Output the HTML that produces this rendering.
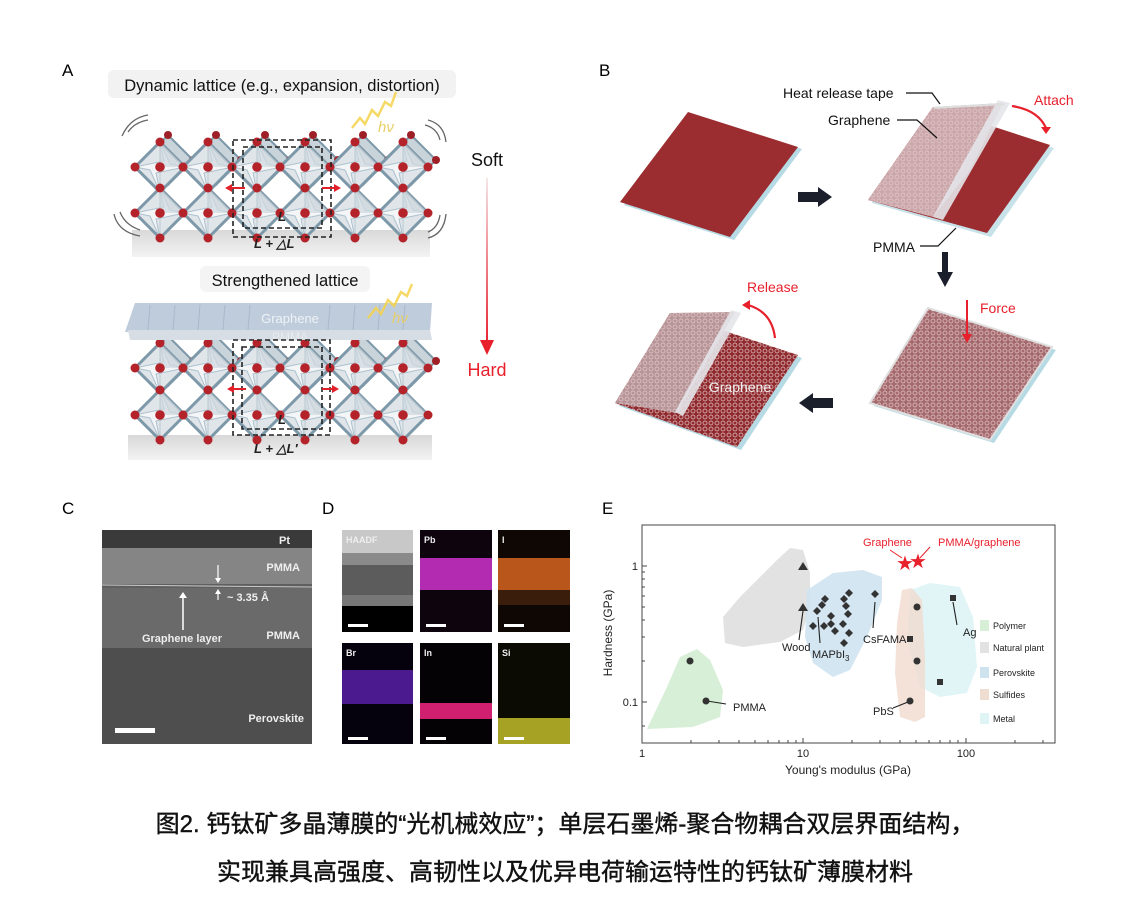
<!DOCTYPE html>
<html><head><meta charset="utf-8"><style>
html,body{margin:0;padding:0;background:#fff;}
svg{display:block;font-family:"Liberation Sans",Arial,sans-serif;}
.cap{font-family:"Liberation Sans","Noto Sans CJK SC",sans-serif;}
</style></head><body>
<svg width="1130" height="914" viewBox="0 0 1130 914" xmlns="http://www.w3.org/2000/svg">
<defs>
<g id="oct">
<polygon points="0,-25 25,0 0,25 -25,0" fill="#dfe5e9" stroke="#7d98a8" stroke-width="3"/>
<polygon points="0,-25 10,-3 25,0 -4,6 0,25 -10,3 -25,0 4,-6" fill="#f3f5f7" stroke="#adc2ce" stroke-width="1"/>
<polygon points="0,-25 25,0 0,0" fill="#cfd8de" opacity="0.7"/>
<line x1="0" y1="-25" x2="0" y2="25" stroke="#b9cad4" stroke-width="1"/>
<circle r="4.5" cx="0" cy="-25" fill="#b5232a"/><circle r="4.5" cx="25" cy="0" fill="#b5232a"/>
<circle r="4.5" cx="0" cy="25" fill="#b5232a"/><circle r="4.5" cx="-25" cy="0" fill="#b5232a"/>
<circle r="4.8" cx="0" cy="0" fill="#b5232a"/>
</g>
<g id="octb">
<polygon points="0,-25 25,0 0,25 -25,0" fill="#c9d3da" stroke="#7d98a8" stroke-width="2"/>
<circle r="4" cx="0" cy="-25" fill="#9e2026"/><circle r="4" cx="25" cy="0" fill="#9e2026"/>
</g>
<pattern id="hex" width="6" height="6" patternUnits="userSpaceOnUse">
<rect width="6" height="6" fill="none"/><circle cx="3" cy="3" r="2" fill="none" stroke="#e8c9ca" stroke-width="0.7"/>
</pattern>
<linearGradient id="sh" x1="0" y1="0" x2="0" y2="1"><stop offset="0" stop-color="#d8d8d8"/><stop offset="1" stop-color="#f3f3f3"/></linearGradient>
<linearGradient id="ar" x1="0" y1="0" x2="0" y2="1"><stop offset="0" stop-color="#f4e6e8"/><stop offset="1" stop-color="#e8202c"/></linearGradient>
</defs>

<!-- Panel A -->
<text x="62" y="76" font-size="17">A</text>
<rect x="108" y="70" width="348" height="28" rx="6" fill="#f2f2f2"/>
<text x="282" y="91" font-size="16.5" text-anchor="middle" fill="#111">Dynamic lattice (e.g., expansion, distortion)</text>
<polygon points="132,230 430,230 430,257 132,257" fill="url(#sh)"/>
<g>
<use href="#octb" x="168" y="160"/><use href="#octb" x="216" y="160"/><use href="#octb" x="265" y="160"/><use href="#octb" x="313" y="160"/><use href="#octb" x="363" y="160"/><use href="#octb" x="411" y="160"/>
<use href="#oct" x="160" y="167"/><use href="#oct" x="208" y="167"/><use href="#oct" x="257" y="167"/><use href="#oct" x="305" y="167"/><use href="#oct" x="355" y="167"/><use href="#oct" x="403" y="167"/>
<use href="#oct" x="160" y="213"/><use href="#oct" x="208" y="213"/><use href="#oct" x="257" y="213"/><use href="#oct" x="305" y="213"/><use href="#oct" x="355" y="213"/><use href="#oct" x="403" y="213"/>
</g>
<rect x="233" y="140" width="98" height="97" fill="none" stroke="#222" stroke-width="1.6" stroke-dasharray="5,3"/>
<rect x="243" y="147" width="79" height="81" fill="none" stroke="#222" stroke-width="1.6" stroke-dasharray="5,3"/>
<line x1="245" y1="188" x2="228" y2="188" stroke="#e2202a" stroke-width="2"/><polygon points="225,188 232,184 232,192" fill="#e2202a"/>
<line x1="322" y1="188" x2="338" y2="188" stroke="#e2202a" stroke-width="2"/><polygon points="341,188 334,184 334,192" fill="#e2202a"/>
<text x="278" y="221" font-size="13" font-style="italic" font-weight="bold" fill="#222">L</text>
<text x="254" y="248" font-size="13" font-style="italic" font-weight="bold" fill="#222">L + △L</text>
<g fill="none" stroke="#666" stroke-width="1.3">
<path d="M128,132 Q135,122 148,120"/><path d="M122,136 Q130,118 148,115"/>
<path d="M425,125 Q437,128 440,140"/><path d="M428,120 Q444,124 446,142"/>
<path d="M120,212 Q125,225 140,230"/><path d="M114,214 Q118,232 140,236"/>
<path d="M440,215 Q438,228 428,232"/><path d="M446,214 Q444,234 428,238"/>
</g>
<path d="M352,128 L360,118 L365,124 L372,110 L378,116 L385,102 L391,106 L396,92" fill="none" stroke="#f4d24a" stroke-width="2.5" opacity="0.85"/>
<text x="378" y="132" font-size="15" font-style="italic" fill="#e8cf6a">hν</text>

<rect x="200" y="266" width="170" height="26" rx="6" fill="#f4f4f4"/>
<text x="285" y="286" font-size="16.5" text-anchor="middle" fill="#111">Strengthened lattice</text>
<polygon points="128,435 432,435 432,460 128,460" fill="url(#sh)"/>
<g>
<use href="#octb" x="168" y="361"/><use href="#octb" x="216" y="361"/><use href="#octb" x="265" y="361"/><use href="#octb" x="313" y="361"/><use href="#octb" x="363" y="361"/><use href="#octb" x="411" y="361"/>
<use href="#oct" x="160" y="368"/><use href="#oct" x="208" y="368"/><use href="#oct" x="257" y="368"/><use href="#oct" x="305" y="368"/><use href="#oct" x="355" y="368"/><use href="#oct" x="403" y="368"/>
<use href="#oct" x="160" y="415"/><use href="#oct" x="208" y="415"/><use href="#oct" x="257" y="415"/><use href="#oct" x="305" y="415"/><use href="#oct" x="355" y="415"/><use href="#oct" x="403" y="415"/>
</g>
<polygon points="135,303 432,303 430,332 125,332" fill="#b8c6d8" opacity="0.9"/>
<g stroke="#9aabbf" stroke-width="1" opacity="0.6">
<line x1="150" y1="305" x2="148" y2="330"/><line x1="175" y1="305" x2="173" y2="330"/><line x1="200" y1="305" x2="198" y2="330"/><line x1="225" y1="305" x2="223" y2="330"/><line x1="250" y1="305" x2="248" y2="330"/><line x1="330" y1="305" x2="328" y2="330"/><line x1="355" y1="305" x2="353" y2="330"/><line x1="380" y1="305" x2="378" y2="330"/><line x1="405" y1="305" x2="403" y2="330"/>
</g>
<polygon points="128,330 430,330 432,340 130,340" fill="#d6dde4"/>
<text x="290" y="323" font-size="13" text-anchor="middle" fill="#eef2f6">Graphene</text>
<text x="290" y="341" font-size="12" text-anchor="middle" fill="#e8eaee">PMMA</text>
<path d="M368,318 L376,308 L381,314 L388,300 L394,306 L401,292 L407,296 L412,284" fill="none" stroke="#f4d24a" stroke-width="2.5" opacity="0.85"/>
<text x="392" y="323" font-size="15" font-style="italic" fill="#e8cf6a">hν</text>
<rect x="233" y="340" width="97" height="95" fill="none" stroke="#222" stroke-width="1.6" stroke-dasharray="5,3"/>
<rect x="242" y="347" width="80" height="82" fill="none" stroke="#222" stroke-width="1.6" stroke-dasharray="5,3"/>
<line x1="246" y1="389" x2="230" y2="389" stroke="#e2202a" stroke-width="2"/><polygon points="227,389 234,385 234,393" fill="#e2202a"/>
<line x1="322" y1="389" x2="336" y2="389" stroke="#e2202a" stroke-width="2"/><polygon points="339,389 332,385 332,393" fill="#e2202a"/>
<text x="278" y="424" font-size="13" font-style="italic" font-weight="bold" fill="#222">L</text>
<text x="254" y="453" font-size="13" font-style="italic" font-weight="bold" fill="#222">L + △L′</text>

<text x="487" y="166" font-size="18" text-anchor="middle" fill="#111">Soft</text>
<rect x="486" y="178" width="2" height="168" fill="url(#ar)"/>
<polygon points="480,340 494,340 487,355" fill="#e8202c"/>
<text x="487" y="376" font-size="18" text-anchor="middle" fill="#e8202c">Hard</text>

<!-- Panel B -->
<text x="599" y="76" font-size="17">B</text>
<polygon points="692,114 802,149 734,240 624,205" fill="#b7dbe4"/>
<polygon points="688,112 798,147 730,237 620,202" fill="#9b2c30"/>
<polygon points="798,192 818,192 818,187 832,197 818,207 818,202 798,202" fill="#1a1f2b"/>
<polygon points="937,110 1054,148 991,237 872,203" fill="#c7e2e8"/>
<polygon points="933,107 1050,145 987,233 868,200" fill="#9b2c30"/>
<polygon points="933,107 1003,103 970,170 933,217 868,200" fill="#c9a7aa"/>
<polygon points="933,107 1003,103 933,217 868,200" fill="url(#hex)"/>
<polygon points="998,100 1010,103 943,220 933,217" fill="#e4e6ea" opacity="0.9"/>
<polygon points="933,107 1003,103 1005,105 935,109" fill="#ddd"/>
<polyline points="906,93 932,93 940,104" fill="none" stroke="#111" stroke-width="1.2"/>
<text x="783" y="98" font-size="14" fill="#111">Heat release tape</text>
<polyline points="897,120 917,120 937,138" fill="none" stroke="#111" stroke-width="1.2"/>
<text x="828" y="125" font-size="14" fill="#111">Graphene</text>
<path d="M1012,106 Q1038,110 1046,128" fill="none" stroke="#e8202c" stroke-width="2.2"/>
<polygon points="1041,127 1051,127 1046,134" fill="#e8202c"/>
<text x="1034" y="105" font-size="14" fill="#e8202c">Attach</text>
<polyline points="920,246 938,246 956,228" fill="none" stroke="#111" stroke-width="1.2"/>
<text x="873" y="252" font-size="14" fill="#111">PMMA</text>
<polygon points="942,252 948,252 948,272 953,272 945,287 937,272 942,272" fill="#1a1f2b"/>
<polygon points="932,311 1056,350 994,443 874,406" fill="#b7dbe4"/>
<polygon points="928,308 1052,347 990,440 870,403" fill="#a46a6e"/>
<polygon points="928,308 1052,347 990,440 870,403" fill="url(#hex)"/>
<polygon points="928,308 1052,347 990,440 870,403" fill="none" stroke="#e0e0e0" stroke-width="2"/>
<line x1="967" y1="300" x2="967" y2="336" stroke="#e8202c" stroke-width="2"/>
<polygon points="962,334 972,334 967,343" fill="#e8202c"/>
<text x="980" y="313" font-size="14" fill="#e8202c">Force</text>
<polygon points="833,398 813,398 813,393 799,403 813,413 813,408 833,408" fill="#1a1f2b"/>
<polygon points="674,316 802,358 741,450 619,406" fill="#b7dbe4"/>
<polygon points="670,313 798,355 737,447 615,403" fill="#8f2a2e"/>
<polygon points="670,313 798,355 737,447 615,403" fill="url(#hex)"/>
<polygon points="670,313 735,312 677,413 615,403" fill="#b69598"/>
<polygon points="670,313 735,312 677,413 615,403" fill="url(#hex)"/>
<polygon points="731,310 741,313 683,416 675,412" fill="#e4e6ea" opacity="0.9"/>
<text x="740" y="392" font-size="14" text-anchor="middle" fill="#eee">Graphene</text>
<path d="M775,338 Q772,312 748,305" fill="none" stroke="#e8202c" stroke-width="2.2"/>
<polygon points="742,305 750,300 750,310" fill="#e8202c"/>
<text x="747" y="292" font-size="14" fill="#e8202c">Release</text>

<!-- Panel C -->
<text x="62" y="514" font-size="17">C</text>
<rect x="102" y="530" width="210" height="214" fill="#5f5f5f"/>
<rect x="102" y="530" width="210" height="18" fill="#3a3a3a"/>
<rect x="102" y="548" width="210" height="36" fill="#858585"/>
<rect x="102" y="588" width="210" height="60" fill="#6a6a6a"/>
<rect x="102" y="648" width="210" height="96" fill="#4e4e4e"/>
<line x1="102" y1="585" x2="312" y2="587" stroke="#ccc" stroke-width="1"/>
<text x="290" y="544" font-size="11" font-weight="bold" fill="#eee" text-anchor="end">Pt</text>
<text x="300" y="571" font-size="11" font-weight="bold" fill="#eee" text-anchor="end">PMMA</text>
<text x="300" y="639" font-size="11" font-weight="bold" fill="#eee" text-anchor="end">PMMA</text>
<text x="304" y="722" font-size="11" font-weight="bold" fill="#eee" text-anchor="end">Perovskite</text>
<text x="182" y="642" font-size="11" font-weight="bold" fill="#eee" text-anchor="middle">Graphene layer</text>
<line x1="183" y1="630" x2="183" y2="597" stroke="#fff" stroke-width="1.5"/><polygon points="179,598 187,598 183,592" fill="#fff"/>
<line x1="218" y1="565" x2="218" y2="580" stroke="#fff" stroke-width="1.2"/><polygon points="215,578 221,578 218,583" fill="#fff"/>
<line x1="218" y1="600" x2="218" y2="592" stroke="#fff" stroke-width="1.2"/><polygon points="215,594 221,594 218,589" fill="#fff"/>
<text x="227" y="601" font-size="11" font-weight="bold" fill="#eee">~ 3.35 Å</text>
<rect x="115" y="728" width="40" height="5" fill="#fff"/>

<!-- Panel D -->
<text x="322" y="514" font-size="17">D</text>
<rect x="342" y="530" width="71" height="102" fill="#000"/>
<rect x="342" y="530" width="71" height="23" fill="#c8c8c8"/>
<rect x="342" y="553" width="71" height="12" fill="#8a8a8a"/>
<rect x="342" y="565" width="71" height="30" fill="#5c5c5c"/>
<rect x="342" y="595" width="71" height="11" fill="#777"/>
<text x="346" y="543" font-size="9" font-weight="bold" fill="#eee">HAADF</text>
<rect x="348" y="624" width="20" height="3" fill="#fff"/>
<rect x="420" y="530" width="72" height="102" fill="#0e040e"/>
<rect x="420" y="558" width="72" height="32" fill="#b22bb0"/>
<text x="424" y="543" font-size="9" font-weight="bold" fill="#eee">Pb</text>
<rect x="426" y="624" width="20" height="3" fill="#fff"/>
<rect x="498" y="530" width="72" height="102" fill="#0e0703"/>
<rect x="498" y="558" width="72" height="32" fill="#b8561c"/>
<rect x="498" y="590" width="72" height="15" fill="#3a1d0a"/>
<text x="502" y="543" font-size="9" font-weight="bold" fill="#eee">I</text>
<rect x="504" y="624" width="20" height="3" fill="#fff"/>
<rect x="342" y="643" width="71" height="101" fill="#06020d"/>
<rect x="342" y="670" width="71" height="34" fill="#4b1a8f"/>
<text x="346" y="656" font-size="9" font-weight="bold" fill="#eee">Br</text>
<rect x="348" y="737" width="20" height="3" fill="#fff"/>
<rect x="420" y="643" width="72" height="101" fill="#050205"/>
<rect x="420" y="703" width="72" height="16" fill="#d0206f"/>
<text x="424" y="656" font-size="9" font-weight="bold" fill="#eee">In</text>
<rect x="426" y="737" width="20" height="3" fill="#fff"/>
<rect x="498" y="643" width="72" height="101" fill="#0b0b03"/>
<rect x="498" y="718" width="72" height="26" fill="#a6a324"/>
<text x="502" y="656" font-size="9" font-weight="bold" fill="#eee">Si</text>
<rect x="504" y="737" width="20" height="3" fill="#fff"/>

<!-- Panel E -->
<text x="602" y="514" font-size="17">E</text>
<polygon points="647,729 667,687 680,657 697,649 710,660 723,690 720,717 693,727" fill="#d6efd6"/>
<polygon points="725,643 723,617 740,597 760,577 777,560 790,548 803,550 810,573 810,607 803,630 780,642 743,647" fill="#e2e2e2"/>
<polygon points="807,590 833,573 863,570 882,577 882,600 867,637 850,670 833,677 813,663 805,637" fill="#cfe3ef" opacity="0.9"/>
<polygon points="910,590 930,583 960,587 973,617 977,667 967,693 940,697 920,687 907,640" fill="#dff4f5" opacity="0.95"/>
<polygon points="902,590 912,588 922,600 925,657 925,717 915,722 900,717 895,673 897,623" fill="#f0d8cc" opacity="0.75"/>
<rect x="642" y="525" width="413" height="218" fill="none" stroke="#444" stroke-width="1"/>
<g stroke="#444" stroke-width="1">
<line x1="642" y1="566" x2="647" y2="566"/><line x1="642" y1="702" x2="647" y2="702"/>
<line x1="642" y1="661" x2="645" y2="661"/><line x1="642" y1="637" x2="645" y2="637"/><line x1="642" y1="620" x2="645" y2="620"/><line x1="642" y1="607" x2="645" y2="607"/><line x1="642" y1="596" x2="645" y2="596"/><line x1="642" y1="587" x2="645" y2="587"/><line x1="642" y1="579" x2="645" y2="579"/><line x1="642" y1="572" x2="645" y2="572"/><line x1="642" y1="726" x2="645" y2="726"/>
<line x1="803" y1="743" x2="803" y2="738"/><line x1="966" y1="743" x2="966" y2="738"/>
<line x1="691" y1="743" x2="691" y2="740"/><line x1="719" y1="743" x2="719" y2="740"/><line x1="739" y1="743" x2="739" y2="740"/><line x1="755" y1="743" x2="755" y2="740"/><line x1="768" y1="743" x2="768" y2="740"/><line x1="779" y1="743" x2="779" y2="740"/><line x1="788" y1="743" x2="788" y2="740"/><line x1="796" y1="743" x2="796" y2="740"/>
<line x1="852" y1="743" x2="852" y2="740"/><line x1="880" y1="743" x2="880" y2="740"/><line x1="900" y1="743" x2="900" y2="740"/><line x1="916" y1="743" x2="916" y2="740"/><line x1="929" y1="743" x2="929" y2="740"/><line x1="940" y1="743" x2="940" y2="740"/><line x1="950" y1="743" x2="950" y2="740"/><line x1="958" y1="743" x2="958" y2="740"/>
<line x1="1015" y1="743" x2="1015" y2="740"/><line x1="1043" y1="743" x2="1043" y2="740"/>
</g>
<g font-size="11" fill="#222">
<text x="638" y="570" text-anchor="end">1</text>
<text x="638" y="706" text-anchor="end">0.1</text>
<text x="642" y="757" text-anchor="middle">1</text>
<text x="803" y="757" text-anchor="middle">10</text>
<text x="966" y="757" text-anchor="middle">100</text>
<text x="848" y="774" font-size="12" text-anchor="middle">Young's modulus (GPa)</text>
<text transform="translate(612,633) rotate(-90)" font-size="12" text-anchor="middle">Hardness (GPa)</text>
</g>
<g stroke="#222" stroke-width="1.1" fill="none">
<line x1="707" y1="701" x2="726" y2="704"/>
<line x1="799" y1="640" x2="803" y2="611"/>
<line x1="820" y1="643" x2="818" y2="617"/>
<line x1="873" y1="628" x2="875" y2="602"/>
<line x1="893" y1="708" x2="908" y2="702"/>
<line x1="957" y1="625" x2="953" y2="602"/>
</g>
<g stroke="#e8202c" stroke-width="1" fill="none"><line x1="890" y1="550" x2="902" y2="558"/><line x1="930" y1="547" x2="920" y2="558"/></g>
<g fill="#333">
<polygon points="803,562 808,570 798,570"/><polygon points="803,603 808,611 798,611"/>
<circle cx="690" cy="661" r="3.5"/><circle cx="706" cy="701" r="3.5"/><circle cx="917" cy="607" r="3.5"/><circle cx="917" cy="661" r="3.5"/><circle cx="910" cy="701" r="3.5"/>
<rect x="907" y="636" width="6" height="6"/><rect x="950" y="595" width="6" height="6"/><rect x="937" y="679" width="6" height="6"/>
<polygon points="817,607 821,611 817,615 813,611"/><polygon points="822,601 826,605 822,609 818,605"/><polygon points="825,595 829,599 825,603 821,599"/><polygon points="813,622 817,626 813,630 809,626"/><polygon points="824,622 828,626 824,630 820,626"/><polygon points="831,612 835,616 831,620 827,616"/><polygon points="831,620 835,624 831,628 827,624"/><polygon points="835,627 839,631 835,635 831,631"/><polygon points="844,595 848,599 844,603 840,599"/><polygon points="846,602 850,606 846,610 842,606"/><polygon points="848,610 852,614 848,618 844,614"/><polygon points="843,620 847,624 843,628 839,624"/><polygon points="844,639 848,643 844,647 840,643"/><polygon points="849,589 853,593 849,597 845,593"/><polygon points="849,629 853,633 849,637 845,633"/><polygon points="875,590 879,594 875,598 871,594"/>
</g>
<g fill="#e8202c" font-size="20"><text x="905" y="570" text-anchor="middle">★</text><text x="918" y="568" text-anchor="middle">★</text></g>
<g font-size="11" fill="#222">
<text x="733" y="711">PMMA</text>
<text x="782" y="651">Wood</text>
<text x="812" y="658">MAPbI<tspan font-size="8" dy="3">3</tspan></text>
<text x="863" y="643">CsFAMA</text>
<text x="873" y="715">PbS</text>
<text x="963" y="636">Ag</text>
</g>
<text x="863" y="546" font-size="11" fill="#e8202c">Graphene</text>
<text x="938" y="546" font-size="11" fill="#e8202c">PMMA/graphene</text>
<g font-size="9" fill="#222">
<rect x="980" y="620" width="9" height="11" fill="#d6efd6"/><text x="993" y="629">Polymer</text>
<rect x="980" y="642" width="9" height="11" fill="#e2e2e2"/><text x="993" y="651">Natural plant</text>
<rect x="980" y="667" width="9" height="11" fill="#cfe3ef"/><text x="993" y="676">Perovskite</text>
<rect x="980" y="689" width="9" height="11" fill="#f0ddd2"/><text x="993" y="698">Sulfides</text>
<rect x="980" y="713" width="9" height="11" fill="#dff4f5"/><text x="993" y="722">Metal</text>
</g>

<text class="cap" x="565" y="832" font-size="24" text-anchor="middle" fill="#111" stroke="#111" stroke-width="0.4">图2. 钙钛矿多晶薄膜的“光机械效应”；单层石墨烯-聚合物耦合双层界面结构，</text>
<text class="cap" x="565" y="880" font-size="24" text-anchor="middle" fill="#111" stroke="#111" stroke-width="0.4">实现兼具高强度、高韧性以及优异电荷输运特性的钙钛矿薄膜材料</text>
</svg>
</body></html>
